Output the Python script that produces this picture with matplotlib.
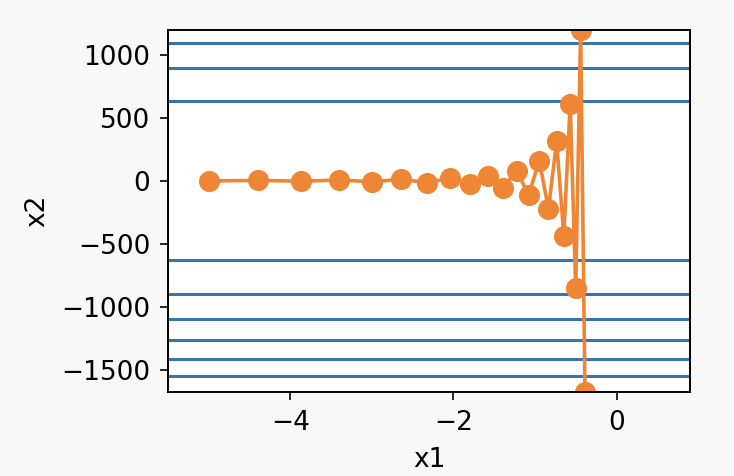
import numpy as np
import matplotlib
matplotlib.use("Agg")
import matplotlib.pyplot as plt

# trace of (x1, x2) over 20 gradient descent steps
x1_trace = [-5.0, -4.4, -3.872, -3.407, -2.998, -2.639, -2.322, -2.043, -1.798, -1.582,
            -1.393, -1.225, -1.078, -0.949, -0.835, -0.735, -0.647, -0.569, -0.501, -0.441, -0.388]
x2_trace = [-2.0, 2.8, -3.92, 5.488, -7.683, 10.757, -15.06, 21.08, -29.52, 41.32,
            -57.85, 80.99, -113.39, 158.74, -222.23, 311.13, -435.58, 609.82, -853.74, 1195.24, -1673.34]

# contour levels of f(x1, x2) = 0.1*x1^2 + 2*x2^2
levels = [0.8e6, 1.6e6, 2.4e6, 3.2e6, 4.0e6, 4.8e6]

plt.rcParams['font.size'] = 9.5

fig = plt.figure(figsize=(3.67, 2.38), dpi=200, facecolor='#f8f8f8')
ax = fig.add_axes([0.229, 0.177, 0.711, 0.760])

g1, g2 = np.meshgrid(np.arange(-5.5, 1.0, 0.1), np.linspace(min(x2_trace), max(x2_trace), 400))
ax.contour(g1, g2, 0.1 * g1 ** 2 + 2 * g2 ** 2, levels=levels, colors='#3a74ad', linewidths=1.1)

ax.plot(x1_trace, x2_trace, '-o', color='#ef8636', lw=1.3, ms=6.6)

ax.set_xlim(-5.5, 0.9)
ax.set_ylim(-1673.34, 1195.24)
ax.set_xticks([-4, -2, 0])
ax.set_yticks([-1500, -1000, -500, 0, 500, 1000])
ax.tick_params(length=2.9, width=0.6)
for s in ax.spines.values():
    s.set_linewidth(0.7)
ax.set_xlabel('x1')
ax.set_ylabel('x2')

fig.savefig('out.png', dpi=200, facecolor=fig.get_facecolor())
